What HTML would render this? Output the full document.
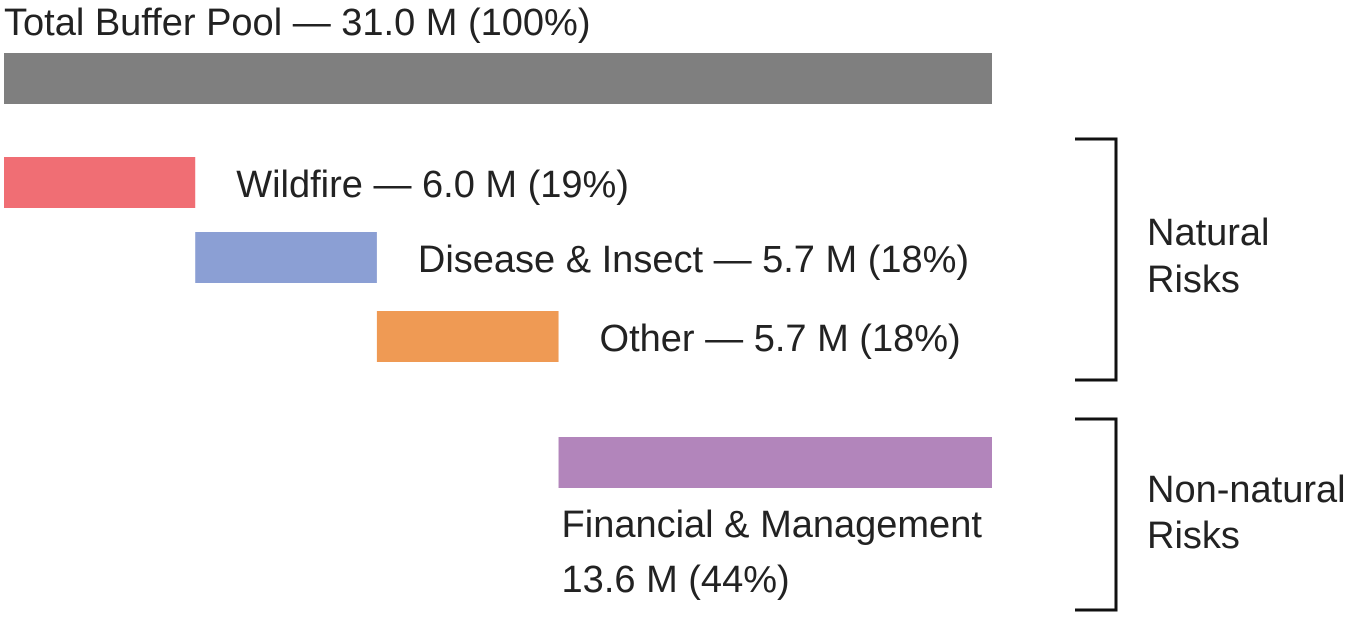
<!DOCTYPE html>
<html><head><meta charset="utf-8"><style>
html,body{margin:0;padding:0;background:#fff;}
svg{display:block;font-family:"Liberation Sans",Arial,sans-serif;}
</style></head><body>
<svg id="chart" width="1350" height="617">
<g id="marks"></g>
<g>
<path d="M1075 139 H1116 V380 H1075" fill="none" stroke="#111" stroke-width="3"/>
<text x="1147" y="245" font-size="38" fill="#222">Natural</text>
<text x="1147" y="292" font-size="38" fill="#222">Risks</text>
</g>
<g>
<path d="M1075 419 H1116 V610 H1075" fill="none" stroke="#111" stroke-width="3"/>
<text x="1147" y="502" font-size="38" fill="#222">Non-natural</text>
<text x="1147" y="548" font-size="38" fill="#222">Risks</text>
</g>
</svg>
<script>
const total = 31.0;
const names = ["Wildfire","Disease & Insect","Other","Financial & Management"];
const values = [6.0,5.7,5.7,13.6];
const pcts = [19,18,18,44];
const colors = ["#f06e74","#8b9fd4","#ef9a54","#b285bb"];
const barTops = [157,232,311,437];
const x0 = 4, x1 = 992;
const sx = v => x0 + v/total*(x1-x0);
const NS="http://www.w3.org/2000/svg";
const g=document.getElementById('marks');
function mk(tag,attrs){const e=document.createElementNS(NS,tag);for(const k in attrs)e.setAttribute(k,attrs[k]);g.appendChild(e);return e;}
let t=mk('text',{x:4,y:35,'font-size':38,fill:'#222'});
t.textContent="Total Buffer Pool — "+total.toFixed(1)+" M (100%)";


let r=mk('rect',{x:sx(0),y:53,width:sx(total)-sx(0),height:51,fill:'#7f7f7f'});


let cum=0;
values.forEach((v,i)=>{
  const a=sx(cum),b=sx(cum+v);
  const rr=mk('rect',{x:a,y:barTops[i],width:b-a,height:51,fill:colors[i]});
  
  
  if(i<3){
    const tt=mk('text',{x:b+41,y:barTops[i]+40,'font-size':38,fill:'#222'});
    tt.textContent=names[i]+" — "+v.toFixed(1)+" M ("+pcts[i]+"%)";
    
    
  } else {
    const t1=mk('text',{x:a+3,y:537,'font-size':38,fill:'#222'});
    t1.textContent=names[i];
    
    
    const t2=mk('text',{x:a+3,y:592,'font-size':38,fill:'#222'});
    t2.textContent=v.toFixed(1)+" M ("+pcts[i]+"%)";
    
    
  }
  cum+=v;
});
</script>
</body></html>
